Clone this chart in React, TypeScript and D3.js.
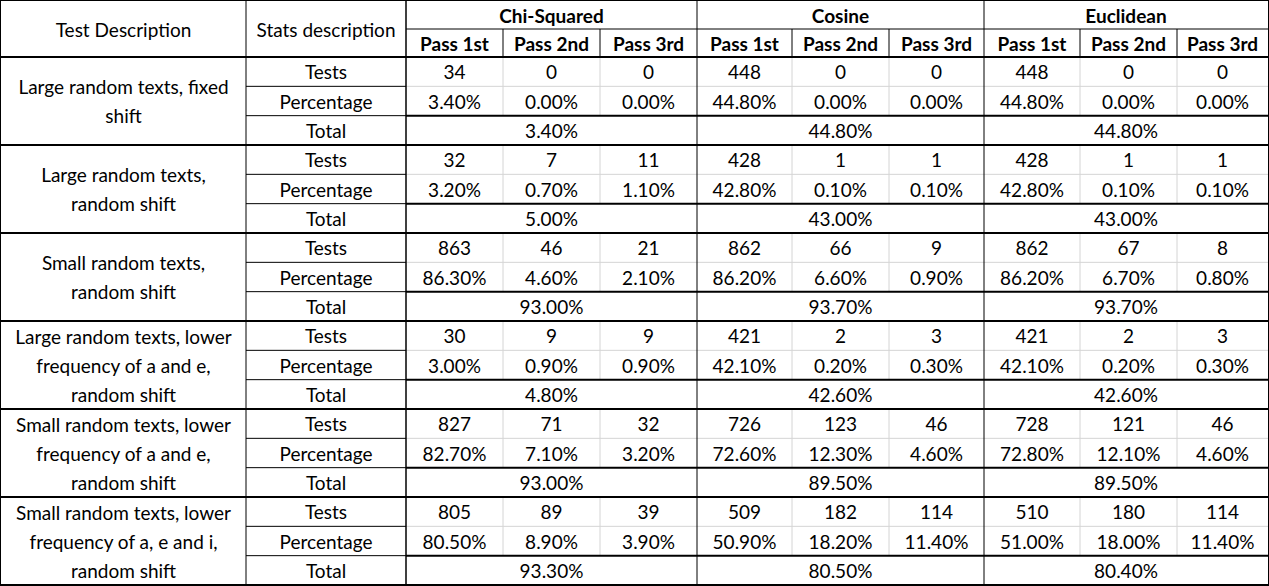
import { useEffect, useRef } from "react";
import * as d3 from "d3";

const tests = [
  "Large random texts, fixed|shift",
  "Large random texts,|random shift",
  "Small random texts,|random shift",
  "Large random texts, lower|frequency of a and e,|random shift",
  "Small random texts, lower|frequency of a and e,|random shift",
  "Small random texts, lower|frequency of a, e and i,|random shift",
];
const methods = ["Chi-Squared", "Cosine", "Euclidean"];
const passes = ["Pass 1st", "Pass 2nd", "Pass 3rd"];
const statsLabels = ["Tests", "Percentage", "Total"];

const testCounts = [
  ["34", "0", "0", "448", "0", "0", "448", "0", "0"],
  ["32", "7", "11", "428", "1", "1", "428", "1", "1"],
  ["863", "46", "21", "862", "66", "9", "862", "67", "8"],
  ["30", "9", "9", "421", "2", "3", "421", "2", "3"],
  ["827", "71", "32", "726", "123", "46", "728", "121", "46"],
  ["805", "89", "39", "509", "182", "114", "510", "180", "114"],
];
const percentages = [
  ["3.40%", "0.00%", "0.00%", "44.80%", "0.00%", "0.00%", "44.80%", "0.00%", "0.00%"],
  ["3.20%", "0.70%", "1.10%", "42.80%", "0.10%", "0.10%", "42.80%", "0.10%", "0.10%"],
  ["86.30%", "4.60%", "2.10%", "86.20%", "6.60%", "0.90%", "86.20%", "6.70%", "0.80%"],
  ["3.00%", "0.90%", "0.90%", "42.10%", "0.20%", "0.30%", "42.10%", "0.20%", "0.30%"],
  ["82.70%", "7.10%", "3.20%", "72.60%", "12.30%", "4.60%", "72.80%", "12.10%", "4.60%"],
  ["80.50%", "8.90%", "3.90%", "50.90%", "18.20%", "11.40%", "51.00%", "18.00%", "11.40%"],
];
const totals = [
  ["3.40%", "44.80%", "44.80%"],
  ["5.00%", "43.00%", "43.00%"],
  ["93.00%", "93.70%", "93.70%"],
  ["4.80%", "42.60%", "42.60%"],
  ["93.00%", "89.50%", "89.50%"],
  ["93.30%", "80.50%", "80.40%"],
];

const colEdges = [1, 246, 406, 503, 600, 697, 792, 889, 984, 1080, 1177, 1268];
const W = 1269, H = 586;
const FONT = "Lato, 'Open Sans', sans-serif";

export default function App() {
  const ref = useRef<SVGSVGElement>(null);
  useEffect(() => {
    if (!ref.current) return;
    const svg = d3.select(ref.current);
    svg.selectAll("*").remove();
    const y = d3.scaleLinear().domain([0, 18]).range([57, 585]);
    const hy = d3.scaleLinear().domain([0, 2]).range([1, 57]);
    const g = svg.append("g").attr("font-family", FONT).attr("font-size", 19).attr("fill", "#000");

    const line = (x1: number, y1: number, x2: number, y2: number, w: number, c = "#000") =>
      g.append("line").attr("x1", x1).attr("y1", y1).attr("x2", x2).attr("y2", y2)
        .attr("stroke", c).attr("stroke-width", w);
    const text = (s: string, x: number, yy: number, bold = false) =>
      g.append("text").attr("x", x).attr("y", yy).attr("text-anchor", "middle")
        .attr("dominant-baseline", "central").attr("font-weight", bold ? 700 : 400).text(s);
    const cx = (i: number) => (colEdges[i] + colEdges[i + 1]) / 2;

    // light inner grid in data columns
    for (let t = 0; t < 6; t++) {
      for (let c = 3; c < 11; c++) {
        if ((c - 2) % 3 === 0) continue;
        line(colEdges[c], y(t * 3), colEdges[c], y(t * 3 + 2), 1, "#d4d4d4");
      }
      line(colEdges[2], y(t * 3 + 1), colEdges[11], y(t * 3 + 1), 1, "#d4d4d4");
      line(colEdges[1], y(t * 3 + 1), colEdges[2], y(t * 3 + 1), 1);
      line(colEdges[1], y(t * 3 + 2), colEdges[2], y(t * 3 + 2), 1);
      line(colEdges[2], y(t * 3 + 2), colEdges[11], y(t * 3 + 2), 2);
    }
    // verticals
    [1, 2, 5, 8].forEach(c => line(colEdges[c], 0, colEdges[c], H, c === 2 ? 1.5 : 1));
    [3, 4, 6, 7, 9, 10].forEach(c => line(colEdges[c], hy(1), colEdges[c], hy(2), 1));
    line(colEdges[2], hy(1), colEdges[11], hy(1), 1);
    // horizontals
    for (let t = 0; t <= 6; t++) line(0, y(t * 3), W, y(t * 3), 2);
    // frame
    g.append("rect").attr("x", 0.5).attr("y", 0.5).attr("width", W - 1).attr("height", H - 1.5)
      .attr("fill", "none").attr("stroke", "#000").attr("stroke-width", 1);

    // headers
    text("Test Description", cx(0), hy(1));
    text("Stats description", cx(1), hy(1));
    methods.forEach((m, i) => {
      text(m, (colEdges[2 + i * 3] + colEdges[5 + i * 3]) / 2, hy(0.5), true);
      passes.forEach((p, j) => text(p, cx(2 + i * 3 + j), hy(1.5), true));
    });

    // body
    tests.forEach((d, t) => {
      const lines = d.split("|");
      const mid = y(t * 3 + 1.5);
      lines.forEach((s, k) => text(s, cx(0), mid + (k - (lines.length - 1) / 2) * 29));
      statsLabels.forEach((s, r) => text(s, cx(1), y(t * 3 + r + 0.5)));
      testCounts[t].forEach((v, c) => text(v, cx(2 + c), y(t * 3 + 0.5)));
      percentages[t].forEach((v, c) => text(v, cx(2 + c), y(t * 3 + 1.5)));
      totals[t].forEach((v, m) => text(v, (colEdges[2 + m * 3] + colEdges[5 + m * 3]) / 2, y(t * 3 + 2.5)));
    });
  }, []);
  return (
    <svg ref={ref} width={W} height={H}
      style={{ display: "block", position: "absolute", left: 0, top: 0, background: "#fff" }} />
  );
}
